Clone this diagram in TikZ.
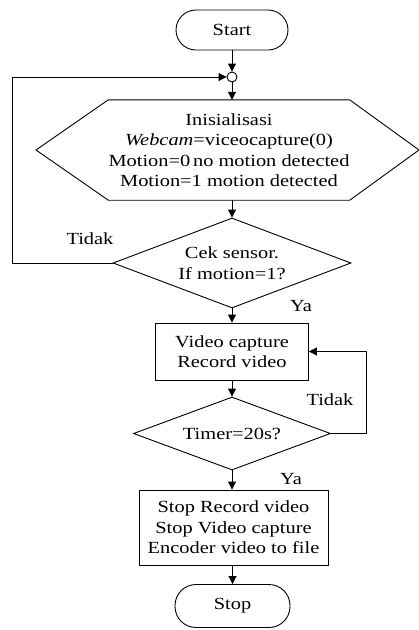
\documentclass[tikz,border=0pt]{standalone}
\usepackage{fontspec}
\setmainfont{Liberation Serif}[FakeStretch=1.2,ItalicFont={Liberation Serif Italic},ItalicFeatures={FakeStretch=1.2}]
\usetikzlibrary{arrows.meta,shapes.geometric}
\tikzset{
  arr/.style={-{Triangle[length=8pt,width=8pt]},line width=0.9pt},
  term/.style={draw,line width=0.9pt,rounded corners=20pt,minimum height=40pt,inner sep=0pt},
  proc/.style={draw,line width=0.9pt,inner sep=0pt,align=center},
  decide/.style={draw,diamond,aspect=2.65,line width=0.9pt,inner sep=0pt,align=center},
  lbl/.style={inner sep=0pt}
}
\begin{document}
\begin{tikzpicture}[x=1pt,y=-1pt,font=\fontsize{17}{20.5}\selectfont]
\useasboundingbox (0,0) rectangle (419,630);
\node[term,minimum width=112pt] (start) at (232,30) {Start};
\node[draw,circle,line width=0.9pt,minimum size=10pt,inner sep=0pt] (join) at (232,77) {};
\node[align=center,inner sep=0pt,minimum width=237pt,minimum height=100pt] (init) at (229,150) {Inisialisasi\\\textit{Webcam}=viceocapture(0)\\Motion=0\,no motion detected\\Motion=1 motion detected};
\draw[line width=0.9pt] (init.north west) -- (init.north east) -- (419,150) -- (init.south east) -- (init.south west) -- (36,150) -- cycle;
\node[decide,minimum width=238pt,minimum height=90pt] (cek) at (232,263) {Cek sensor.\\If motion=1?};
\node[proc,minimum width=153pt,minimum height=57pt] (rec) at (232,351.5) {Video capture\\Record video};
\node[decide,minimum width=197pt,minimum height=73pt] (timer) at (232,433.5) {Timer=20s?};
\node[proc,minimum width=189pt,minimum height=75pt] (stoprec) at (233.5,527.5) {Stop Record video\\Stop Video capture\\Encoder video to file};
\node[term,minimum width=115pt,minimum height=43pt,rounded corners=21pt] (stop) at (232.5,606) {Stop};
\draw[arr] (start.south) -- (join.north);
\draw[arr] (join.south) -- (init.north -| join.south);
\draw[arr] (init.south -| cek.north) -- (cek.north);
\draw[arr] (cek.west) -- ++(-100,0) |- (join.west);
\draw[arr] (cek.south) -- (rec.north);
\draw[arr] (rec.south) -- (timer.north);
\draw[arr] (timer.east) -- ++(35,0) |- (rec.east);
\draw[arr] (timer.south) -- (stoprec.north -| timer.south);
\draw[arr] (stoprec.south -| stop.north) -- (stop.north);
\node[lbl] (tidak1) at (90,239) {Tidak};
\node[lbl] (ya1) at (301,306) {Ya};
\node[lbl] (tidak2) at (330,400) {Tidak};
\node[lbl] (ya2) at (291,479) {Ya};
\end{tikzpicture}
\end{document}
